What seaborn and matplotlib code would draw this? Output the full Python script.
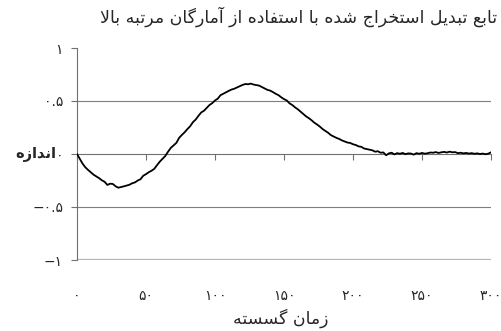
import matplotlib
matplotlib.use("Agg")
import matplotlib.pyplot as plt
import seaborn as sns
import pandas as pd

# Discrete time axis (every second sample) and estimated transfer-function values
time_steps = list(range(0, 301, 2))
magnitude = [
    0.000, -0.045, -0.090, -0.125, -0.150, -0.172, -0.195, -0.212, -0.228, -0.248,
    -0.262, -0.292, -0.280, -0.283, -0.305, -0.318, -0.312, -0.305, -0.298, -0.290,
    -0.276, -0.268, -0.250, -0.238, -0.205, -0.190, -0.172, -0.158, -0.140, -0.105,
    -0.072, -0.045, -0.018, 0.022, 0.058, 0.082, 0.105, 0.152, 0.180, 0.205,
    0.235, 0.262, 0.300, 0.325, 0.360, 0.392, 0.408, 0.435, 0.462, 0.480,
    0.505, 0.522, 0.555, 0.568, 0.582, 0.596, 0.608, 0.616, 0.628, 0.640,
    0.652, 0.660, 0.658, 0.664, 0.655, 0.650, 0.645, 0.632, 0.618, 0.605,
    0.598, 0.584, 0.568, 0.555, 0.535, 0.518, 0.505, 0.478, 0.462, 0.440,
    0.422, 0.400, 0.378, 0.355, 0.338, 0.318, 0.295, 0.278, 0.258, 0.235,
    0.218, 0.200, 0.178, 0.165, 0.152, 0.142, 0.128, 0.118, 0.108, 0.104,
    0.092, 0.085, 0.072, 0.068, 0.052, 0.046, 0.040, 0.035, 0.022, 0.026,
    0.012, 0.015, -0.012, 0.006, 0.012, -0.004, 0.008, 0.002, 0.010, -0.002,
    0.006, 0.004, -0.006, 0.008, 0.002, 0.010, 0.003, 0.007, 0.014, 0.012,
    0.018, 0.010, 0.016, 0.020, 0.014, 0.022, 0.016, 0.018, 0.008, 0.012,
    0.006, 0.010, 0.004, 0.008, 0.002, 0.006, 0.000, 0.004, -0.002, 0.003,
    0.016,
]

x_ticks = [0, 50, 100, 150, 200, 250, 300]
x_tick_labels = ["۰", "۵۰", "۱۰۰", "۱۵۰", "۲۰۰", "۲۵۰", "۳۰۰"]
y_ticks = [-1, -0.5, 0, 0.5, 1]
y_tick_labels = ["−۱", "−۰.۵", "۰", "۰.۵", "۱"]

title_text = "تابع تبدیل استخراج شده با استفاده از آمارگان مرتبه بالا"
x_label_text = "زمان گسسته"
y_label_text = "اندازه"

# --- minimal Arabic/Persian shaping (presentation forms + visual order) ---
DUAL = {
    "ب": ("\uFE8F", "\uFE90", "\uFE91", "\uFE92"),
    "ت": ("\uFE95", "\uFE96", "\uFE97", "\uFE98"),
    "ج": ("\uFE9D", "\uFE9E", "\uFE9F", "\uFEA0"),
    "خ": ("\uFEA5", "\uFEA6", "\uFEA7", "\uFEA8"),
    "س": ("\uFEB1", "\uFEB2", "\uFEB3", "\uFEB4"),
    "ش": ("\uFEB5", "\uFEB6", "\uFEB7", "\uFEB8"),
    "ع": ("\uFEC9", "\uFECA", "\uFECB", "\uFECC"),
    "ف": ("\uFED1", "\uFED2", "\uFED3", "\uFED4"),
    "ل": ("\uFEDD", "\uFEDE", "\uFEDF", "\uFEE0"),
    "م": ("\uFEE1", "\uFEE2", "\uFEE3", "\uFEE4"),
    "ن": ("\uFEE5", "\uFEE6", "\uFEE7", "\uFEE8"),
    "ه": ("\uFEE9", "\uFEEA", "\uFEEB", "\uFEEC"),
    "گ": ("\uFB92", "\uFB93", "\uFB94", "\uFB95"),
    "ی": ("\uFBFC", "\uFBFD", "\uFBFE", "\uFBFF"),
}
RIGHT = {
    "ا": ("\uFE8D", "\uFE8E"),
    "آ": ("\uFE81", "\uFE82"),
    "د": ("\uFEA9", "\uFEAA"),
    "ر": ("\uFEAD", "\uFEAE"),
    "ز": ("\uFEAF", "\uFEB0"),
}
LAM_ALEF = {"ا": ("\uFEFB", "\uFEFC"), "آ": ("\uFEF5", "\uFEF6")}


def shape(text):
    out = []
    i = 0
    n = len(text)
    while i < n:
        ch = text[i]
        prev = text[i - 1] if i > 0 else ""
        nxt = text[i + 1] if i + 1 < n else ""
        joins_prev = prev in DUAL and (ch in DUAL or ch in RIGHT)
        if ch == "ل" and nxt in LAM_ALEF:
            out.append(LAM_ALEF[nxt][1 if joins_prev else 0])
            i += 2
            continue
        if ch in DUAL:
            joins_next = nxt in DUAL or nxt in RIGHT
            iso, fin, ini, med = DUAL[ch]
            if joins_prev and joins_next:
                out.append(med)
            elif joins_prev:
                out.append(fin)
            elif joins_next:
                out.append(ini)
            else:
                out.append(iso)
        elif ch in RIGHT:
            out.append(RIGHT[ch][1 if joins_prev else 0])
        else:
            out.append(ch)
        i += 1
    return "".join(reversed(out))


sns.set_theme(style="white")
plt.rcParams["font.family"] = ["DejaVu Sans"]

df = pd.DataFrame({"t": time_steps, "v": magnitude})

fig = plt.figure(figsize=(5.02, 3.31), dpi=100, facecolor="white")
ax = fig.add_axes([77 / 502, 1 - 260 / 331, 414 / 502, 212 / 331])
ax.set_facecolor("white")

# grid lines and frame lines
for yv in (0.5, -0.5):
    ax.axhline(yv, color="#7f7f7f", lw=0.8, zorder=1)
ax.axhline(-1, color="#b4b4b4", lw=1.6, zorder=1)

sns.lineplot(data=df, x="t", y="v", color="black", lw=1.3, ax=ax, zorder=3)

ax.set_xlim(0, 300)
ax.set_ylim(-1, 1)

for side in ("top", "right"):
    ax.spines[side].set_visible(False)
ax.spines["bottom"].set_position(("data", 0))
ax.spines["bottom"].set_color("#707070")
ax.spines["bottom"].set_linewidth(0.8)
ax.spines["left"].set_color("#707070")
ax.spines["left"].set_linewidth(0.8)

ax.set_xticks(x_ticks)
ax.set_xticklabels(x_tick_labels, fontsize=10)
ax.set_yticks(y_ticks)
ax.set_yticklabels(y_tick_labels, fontsize=10)
ax.tick_params(axis="x", direction="out", length=4, width=0.8, color="#707070",
               pad=93, bottom=True)
ax.tick_params(axis="y", direction="out", length=4, width=0.8, color="#707070",
               pad=6, left=True)
ax.set_xlabel("")
ax.set_ylabel("")

fig.text(497 / 502, 1 - 17 / 331, shape(title_text), ha="right", va="center",
         fontsize=12.5)
fig.text(281 / 502, 1 - 318 / 331, shape(x_label_text), ha="center", va="center",
         fontsize=12.5)
fig.text(56 / 502, 1 - 154 / 331, shape(y_label_text), ha="right", va="center",
         fontsize=10.5, fontweight="bold")

fig.savefig("out.png", dpi=100, facecolor="white")
